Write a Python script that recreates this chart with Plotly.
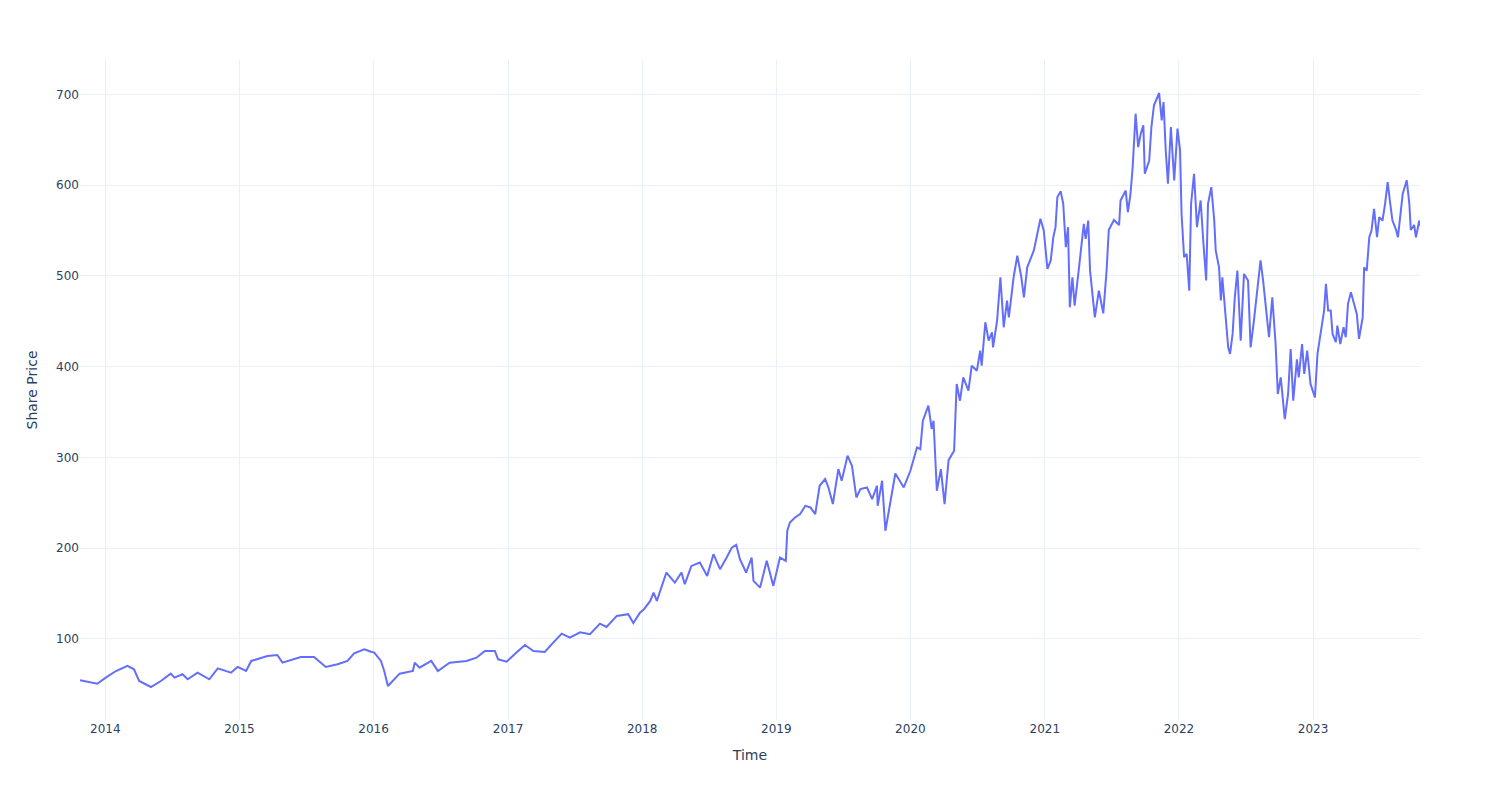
import plotly.graph_objects as go

dates = [
"2013-10-24","2013-11-15","2013-12-10","2014-01-02","2014-01-30","2014-03-02","2014-03-20","2014-04-03",
"2014-05-05","2014-06-01","2014-06-28","2014-07-08","2014-07-30","2014-08-13","2014-09-09","2014-10-11",
"2014-11-03","2014-12-09","2014-12-27","2015-01-19","2015-02-02","2015-03-18","2015-04-14","2015-04-28",
"2015-06-17","2015-07-23","2015-08-24","2015-09-25","2015-10-22","2015-11-09","2015-12-07","2015-12-25",
"2016-01-03","2016-01-21","2016-01-30","2016-02-09","2016-03-12","2016-04-17","2016-04-22","2016-05-05",
"2016-06-06","2016-06-24","2016-07-26","2016-09-10","2016-10-07","2016-10-30","2016-11-26","2016-12-05",
"2016-12-28","2017-01-24","2017-02-16","2017-03-11","2017-04-11","2017-05-04","2017-05-27","2017-06-18",
"2017-07-16","2017-08-12","2017-09-08","2017-09-26","2017-10-24","2017-11-24","2017-12-08","2017-12-26",
"2018-01-06","2018-01-23","2018-02-01","2018-02-10","2018-03-08","2018-03-31","2018-04-18","2018-04-27",
"2018-05-15","2018-06-07","2018-06-27","2018-07-14","2018-08-01","2018-08-19","2018-09-02","2018-09-14",
"2018-09-24","2018-10-11","2018-10-26","2018-10-31","2018-11-18","2018-12-06","2018-12-24","2019-01-11",
"2019-01-27","2019-01-31","2019-02-07","2019-02-21","2019-03-07","2019-03-21","2019-04-04","2019-04-17",
"2019-04-29","2019-05-14","2019-05-23","2019-06-04","2019-06-19","2019-06-28","2019-07-14","2019-07-26",
"2019-08-07","2019-08-18","2019-09-05","2019-09-19","2019-10-02","2019-10-04","2019-10-16","2019-10-25",
"2019-11-08","2019-11-21","2019-12-14","2020-01-01","2020-01-19","2020-01-28","2020-02-04","2020-02-19",
"2020-02-28","2020-03-04","2020-03-13","2020-03-24","2020-04-03","2020-04-14","2020-04-29","2020-05-06",
"2020-05-15","2020-05-24","2020-06-07","2020-06-16","2020-06-30","2020-07-09","2020-07-13","2020-07-23",
"2020-08-01","2020-08-10","2020-08-13","2020-08-24","2020-09-02","2020-09-11","2020-09-20","2020-09-25",
"2020-10-08","2020-10-18","2020-10-29","2020-11-05","2020-11-14","2020-12-02","2020-12-20","2020-12-29",
"2021-01-08","2021-01-17","2021-01-24","2021-01-30","2021-02-04","2021-02-13","2021-02-20","2021-02-27",
"2021-03-05","2021-03-10","2021-03-17","2021-03-23","2021-04-04","2021-04-17","2021-04-22","2021-04-29",
"2021-05-04","2021-05-10","2021-05-17","2021-05-28","2021-06-09","2021-06-18","2021-06-24","2021-07-08",
"2021-07-22","2021-07-26","2021-08-09","2021-08-15","2021-08-22","2021-08-28","2021-09-05","2021-09-12",
"2021-09-19","2021-09-26","2021-09-30","2021-10-12","2021-10-18","2021-10-25","2021-11-08","2021-11-15",
"2021-11-20","2021-11-26","2021-12-02","2021-12-10","2021-12-19","2021-12-28","2022-01-04","2022-01-08",
"2022-01-15","2022-01-22","2022-01-29","2022-02-03","2022-02-11","2022-02-19","2022-03-01","2022-03-08",
"2022-03-16","2022-03-21","2022-03-30","2022-04-07","2022-04-11","2022-04-20","2022-04-25","2022-04-29",
"2022-05-08","2022-05-15","2022-05-20","2022-05-27","2022-06-02","2022-06-09","2022-06-18","2022-06-27",
"2022-07-08","2022-07-15","2022-07-24","2022-08-04","2022-08-11","2022-08-18","2022-08-28","2022-09-03",
"2022-09-12","2022-09-21","2022-09-27","2022-10-05","2022-10-16","2022-10-25","2022-11-01","2022-11-08",
"2022-11-18","2022-11-23","2022-12-02","2022-12-08","2022-12-16","2022-12-25","2023-01-06","2023-01-13",
"2023-01-24","2023-01-31","2023-02-05","2023-02-11","2023-02-18","2023-02-23","2023-03-04","2023-03-08",
"2023-03-16","2023-03-25","2023-03-31","2023-04-06","2023-04-14","2023-04-23","2023-04-30","2023-05-06",
"2023-05-16","2023-05-20","2023-05-27","2023-06-03","2023-06-09","2023-06-16","2023-06-24","2023-06-30",
"2023-07-09","2023-07-16","2023-07-23","2023-07-30","2023-08-05","2023-08-14","2023-08-20","2023-08-26",
"2023-09-02","2023-09-13","2023-09-20","2023-09-24","2023-10-03","2023-10-08","2023-10-17","2023-10-19",
]

share_price = [
54.5,52.6,50.7,57.4,64.7,70.3,66.6,53.7,
47.1,53.7,61.8,57.4,61.1,55.6,62.9,55.6,
67.7,62.9,69.2,64.7,75.8,81.3,82.4,73.9,
80.2,80.2,69.2,72.1,75.8,84.3,88.7,86.0,
85.0,75.8,64.7,48.2,61.8,64.7,73.9,68.4,
75.8,64.7,73.9,75.8,79.4,86.8,86.8,77.6,
75.0,85.0,93.4,86.8,85.7,96.0,105.9,101.5,
107.4,105.2,116.9,113.3,125.4,127.3,117.5,129.0,
132.8,141.9,151.1,142.0,173.2,162.1,173.2,160.4,
180.5,184.2,169.5,193.4,176.9,189.7,200.7,203.7,
187.9,173.2,189.7,164.0,156.6,186.1,158.5,189.7,
186.1,219.2,228.3,233.8,237.6,246.7,244.9,237.6,
268.8,276.2,266.9,248.6,287.2,274.3,301.9,290.8,
255.9,265.1,266.9,254.1,268.8,246.7,274.3,219.2,
252.2,282.3,266.9,285.3,311.0,309.2,340.5,357.0,
331.3,340.5,263.3,287.2,248.6,297.0,307.4,381.0,
362.5,388.2,373.6,401.1,395.6,417.7,401.1,448.9,
428.7,437.9,421.3,450.8,498.5,443.4,472.8,454.4,
498.5,522.4,498.5,476.4,509.5,528.0,563.0,550.0,
507.8,517.0,542.6,553.7,586.7,593.4,579.5,531.6,
553.7,465.4,498.5,467.3,509.5,557.4,540.9,561.0,
505.8,480.2,454.4,483.8,458.8,505.9,550.6,561.6,
556.0,583.1,594.0,570.2,590.0,620.0,678.7,641.9,
656.7,665.8,612.5,627.2,664.0,687.9,701.5,671.4,
691.5,638.3,601.6,664.0,605.2,662.2,638.3,568.4,
520.6,524.3,483.8,579.5,612.5,553.7,583.1,539.0,
494.9,579.5,597.8,561.1,528.0,509.5,473.1,498.5,
458.1,421.3,414.0,436.1,476.4,505.9,428.7,502.2,
494.9,421.3,450.8,494.9,517.0,494.9,458.1,432.4,
476.4,425.0,369.9,388.2,342.3,369.9,419.5,362.5,
408.0,388.2,425.0,392.0,417.7,381.0,366.2,414.0,
443.4,461.8,491.2,461.8,461.8,436.1,426.9,445.3,
425.0,443.4,432.4,469.2,482.0,469.2,458.1,430.6,
454.4,509.5,505.9,542.6,550.0,573.9,542.6,564.7,
561.0,579.5,603.3,579.5,561.0,551.9,542.6,564.7,
590.5,605.2,579.5,550.6,556.1,542.6,561.0,555.0,
]

x_title = "Time"
y_title = "Share Price"

fig = go.Figure(go.Scatter(x=dates, y=share_price, mode="lines",
                           line=dict(color="#636efa", width=2)))
fig.update_layout(
    template="plotly_white",
    width=1484, height=784,
    margin=dict(l=72, r=72, t=52, b=72),
    font=dict(family="DejaVu Sans"),
    xaxis_title=x_title,
    yaxis_title=y_title,
    showlegend=False,
)
fig.write_html("out.html")
